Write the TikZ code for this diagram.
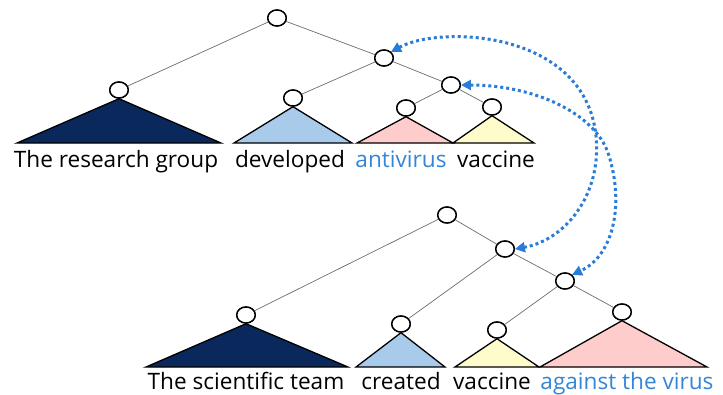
\documentclass[tikz,border=0pt]{standalone}
\usepackage{fontspec}
\setmainfont{Open Sans}
\usetikzlibrary{shapes.geometric,arrows.meta}
\definecolor{navy}{RGB}{10,40,92}
\definecolor{lblue}{RGB}{169,203,235}
\definecolor{lpink}{RGB}{255,204,204}
\definecolor{lyellow}{RGB}{255,252,204}
\definecolor{tblue}{RGB}{51,133,214}
\definecolor{ablue}{RGB}{42,125,214}
\tikzset{
  tn/.style={draw=black, fill=white, ellipse, minimum width=18.5pt, minimum height=16pt, inner sep=0pt, line width=1.4pt},
  edge/.style={draw=gray!85!black, line width=0.7pt},
  tri/.style={draw=black, line width=1.3pt, line join=miter},
  lbl/.style={anchor=base, font=\fontsize{22.6}{26}\selectfont, inner sep=0pt},
  mv/.style={draw=ablue, line width=3pt, dash pattern=on 3pt off 3pt, {Triangle[length=10pt,width=10pt]}-{Triangle[length=10pt,width=10pt]}},
}
\begin{document}
\begin{tikzpicture}[x=1pt,y=-1pt]
\useasboundingbox (0,0) rectangle (723,394);
% top tree nodes
\node[tn] (t0) at (277,18) {};
\node[tn] (t1) at (119,90) {};
\node[tn] (t2) at (384,58) {};
\node[tn] (t3) at (293,98) {};
\node[tn] (t4) at (451,85) {};
\node[tn] (t5) at (406,108) {};
\node[tn] (t6) at (492,107) {};
% bottom tree nodes
\node[tn] (b0) at (447,215) {};
\node[tn] (b1) at (246,315) {};
\node[tn] (b2) at (505,249) {};
\node[tn] (b3) at (401,324) {};
\node[tn] (b4) at (565,281) {};
\node[tn] (b5) at (497,330) {};
\node[tn] (b6) at (622,312) {};
% edges
\draw[edge] (t0) -- (t1);
\draw[edge] (t0) -- (t2);
\draw[edge] (t2) -- (t3);
\draw[edge] (t2) -- (t4);
\draw[edge] (t4) -- (t5);
\draw[edge] (t4) -- (t6);
\draw[edge] (b0) -- (b1);
\draw[edge] (b0) -- (b2);
\draw[edge] (b2) -- (b3);
\draw[edge] (b2) -- (b4);
\draw[edge] (b4) -- (b5);
\draw[edge] (b4) -- (b6);
% triangles
\draw[tri, fill=navy] (t1.south) -- (221,143) -- (17,143) -- cycle;
\draw[tri, fill=lblue] (t3.south) -- (352,143) -- (234,143) -- cycle;
\draw[tri, fill=lpink] (t5.south) -- (453,143) -- (357,143) -- cycle;
\draw[tri, fill=lyellow] (t6.south) -- (534,143) -- (453,143) -- cycle;
\draw[tri, fill=navy] (b1.south) -- (348,367) -- (146,367) -- cycle;
\draw[tri, fill=lblue] (b3.south) -- (445,367) -- (356,367) -- cycle;
\draw[tri, fill=lyellow] (b5.south) -- (539,367) -- (455,367) -- cycle;
\draw[tri, fill=lpink] (b6.south) -- (707,367) -- (540,367) -- cycle;
% redraw circles on top
\foreach \n in {t0,t1,t2,t3,t4,t5,t6,b0,b1,b2,b3,b4,b5,b6}{
  \node[tn] at (\n) {};
}
% labels
\node[lbl] (l1) at (116,167) {The research group};
\node[lbl] (l2) at (290,167) {developed};
\node[lbl, text=tblue] (l3) at (401,167) {antivirus};
\node[lbl] (l4) at (496,167) {vaccine};
\node[lbl] (l5) at (246,389) {The scientific team};
\node[lbl] (l6) at (401,389) {created};
\node[lbl] (l7) at (492,389) {vaccine};
\node[lbl, text=tblue] (l8) at (627,389) {against the virus};
% movement arrows
\draw[mv] (t2.north east) .. controls (440,25) and (585,30) .. (596,136) .. controls (602,195) and (565,240) .. (b2.east);
\draw[mv] (t4.east) .. controls (530,85) and (590,110) .. (607,150) .. controls (625,200) and (615,255) .. (b4.north east);
\end{tikzpicture}
\end{document}
